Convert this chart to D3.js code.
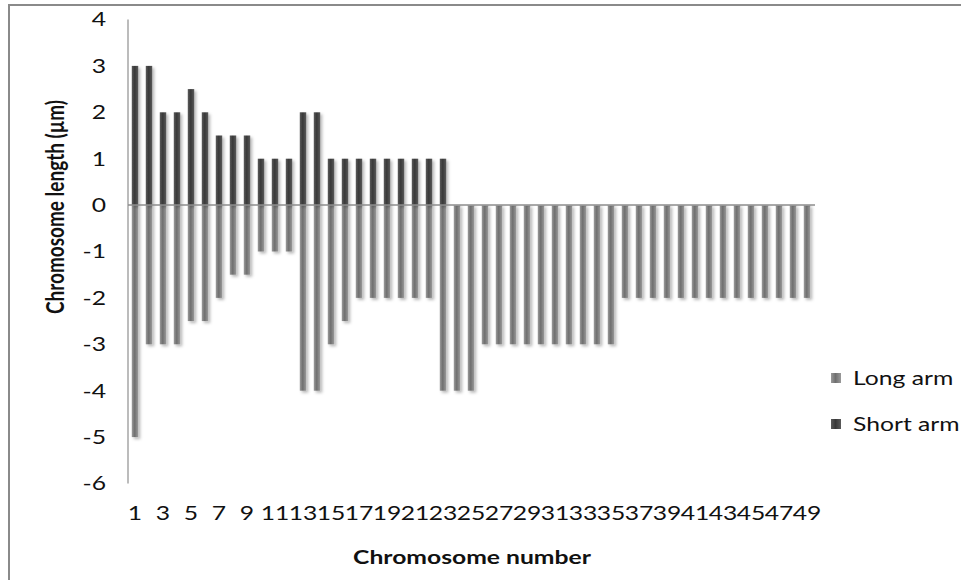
<!DOCTYPE html>
<html>
<head>
<meta charset="utf-8">
<script src="https://cdn.jsdelivr.net/npm/d3@7"></script>
<style>
  html, body { margin: 0; padding: 0; background: #fff; }
  svg { display: block; font-family: Lato, "Open Sans", sans-serif; }
</style>
</head>
<body>
<svg id="chart" width="961" height="580"></svg>
<script>
// ---- data ----
const chromosomes = d3.range(1, 50).map(String);
const shortArm = [3,3,2,2,2.5,2,1.5,1.5,1.5,1,1,1,2,2,1,1,1,1,1,1,1,1,1,
  0,0,0,0,0,0,0,0,0,0,0,0,0,0,0,0,0,0,0,0,0,0,0,0,0,0];
const longArm = [-5,-3,-3,-3,-2.5,-2.5,-2,-1.5,-1.5,-1,-1,-1,-4,-4,-3,-2.5,-2,-2,-2,-2,-2,-2,
  -4,-4,-4,-3,-3,-3,-3,-3,-3,-3,-3,-3,-3,
  -2,-2,-2,-2,-2,-2,-2,-2,-2,-2,-2,-2,-2,-2];
const yTicks = [4,3,2,1,0,-1,-2,-3,-4,-5,-6];
const xTickLabels = chromosomes.filter((d,i) => i % 2 === 0);
const seriesNames = ["Long arm", "Short arm"];

// ---- layout ----
const svg = d3.select("#chart");
const plotLeft = 128, plotRight = 814, plotTop = 19.5, plotBottom = 483.5;
const SX = 1.3; // horizontal text stretch seen in the reference

const x = d3.scaleBand().domain(chromosomes).range([plotLeft, plotRight]).paddingInner(0.54).paddingOuter(0.27);
const y = d3.scaleLinear().domain([-6, 4]).range([plotBottom, plotTop]);

const defs = svg.append("defs");
const f = defs.append("filter").attr("id", "shadow").attr("x", "-50%").attr("y", "-10%").attr("width", "250%").attr("height", "130%");
f.append("feDropShadow").attr("dx", 2).attr("dy", 2).attr("stdDeviation", 1.4).attr("flood-color", "#000").attr("flood-opacity", 0.28);

function grad(id, edge, mid) {
  const g = defs.append("linearGradient").attr("id", id).attr("x1", "0").attr("x2", "1").attr("y1", "0").attr("y2", "0");
  g.append("stop").attr("offset", "0%").attr("stop-color", edge);
  g.append("stop").attr("offset", "45%").attr("stop-color", mid);
  g.append("stop").attr("offset", "100%").attr("stop-color", edge);
}
grad("gLong", "#9a9a9a", "#6f6f6f");
grad("gShort", "#5a5a5a", "#383838");

// outer border
svg.append("rect").attr("x", 9).attr("y", 5).attr("width", 980).attr("height", 600)
  .attr("fill", "none").attr("stroke", "#8a8a8a").attr("stroke-width", 2);

// bars
const g = svg.append("g");
g.selectAll("rect.long").data(longArm).join("rect").attr("class", "long")
  .attr("x", (d,i) => x(chromosomes[i]))
  .attr("width", x.bandwidth())
  .attr("y", y(0))
  .attr("height", d => y(d) - y(0))
  .attr("fill", "url(#gLong)")
  .attr("filter", "url(#shadow)");

g.selectAll("rect.short").data(shortArm).join("rect").attr("class", "short")
  .attr("x", (d,i) => x(chromosomes[i]))
  .attr("width", x.bandwidth())
  .attr("y", d => y(d))
  .attr("height", d => Math.max(0.8, y(0) - y(d)))
  .attr("fill", d => d === 0 ? "#bbbbbb" : "url(#gShort)")
  .attr("filter", "url(#shadow)");

// y axis line
svg.append("line").attr("x1", plotLeft).attr("x2", plotLeft).attr("y1", plotTop).attr("y2", plotBottom)
  .attr("stroke", "#a6a6a6").attr("stroke-width", 1.5);
// zero line
svg.append("line").attr("x1", plotLeft).attr("x2", plotRight + 1).attr("y1", y(0)).attr("y2", y(0))
  .attr("stroke", "#8c8c8c").attr("stroke-width", 1.5);

// y tick labels
svg.append("g").selectAll("text").data(yTicks).join("text")
  .attr("transform", d => `translate(106,${y(d)}) scale(${SX},1)`)
  .attr("text-anchor", "end").attr("dy", "0.36em")
  .attr("font-size", 19).attr("fill", "#111")
  .text(d => d);

// x tick labels
svg.append("g").selectAll("text").data(xTickLabels).join("text")
  .attr("transform", d => `translate(${x(d) + x.bandwidth()/2},520) scale(${SX},1)`)
  .attr("text-anchor", "middle")
  .attr("font-size", 19).attr("fill", "#111")
  .text(d => d);

// axis titles
svg.append("text")
  .attr("transform", `translate(472,564) scale(${SX},1)`)
  .attr("text-anchor", "middle").attr("font-size", 19).attr("font-weight", "bold").attr("fill", "#111")
  .text("Chromosome number");

svg.append("text")
  .attr("transform", `translate(64,207) rotate(-90) scale(1,${SX})`)
  .attr("text-anchor", "middle").attr("font-size", 19).attr("font-weight", "bold").attr("fill", "#111")
  .text("Chromosome length (µm)");

// legend
const legend = svg.append("g");
const items = legend.selectAll("g").data(seriesNames).join("g")
  .attr("transform", (d,i) => `translate(831,${378 + i*46})`);
items.append("rect").attr("x", 0).attr("y", -5).attr("width", 10).attr("height", 10)
  .attr("fill", (d,i) => i === 0 ? "url(#gLong)" : "url(#gShort)");
items.append("text")
  .attr("transform", `translate(22,0) scale(${SX},1)`)
  .attr("dy", "0.36em").attr("font-size", 19).attr("fill", "#111")
  .text(d => d);
</script>
</body>
</html>
